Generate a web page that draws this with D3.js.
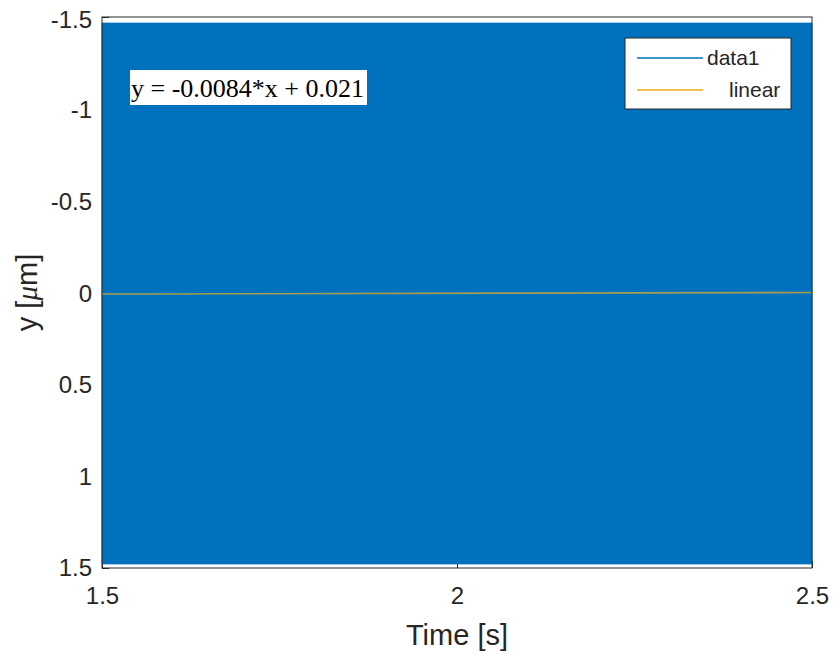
<!DOCTYPE html>
<html>
<head>
<meta charset="utf-8">
<script src="https://cdn.jsdelivr.net/npm/d3@7"></script>
<style>
  html, body { margin: 0; padding: 0; background: #fff; }
  svg { display: block; }
</style>
</head>
<body>
<svg id="chart" width="834" height="654"></svg>
<script>
// Axis ranges and tick labels
const xDomain = [1.5, 2.5];
const yDomain = [-1.5, 1.5];          // y axis is reversed: -1.5 at top
const xTicks = [1.5, 2, 2.5];
const yTicks = [-1.5, -1, -0.5, 0, 0.5, 1, 1.5];

// data1: dense oscillation, drawn as its min/max envelope over time
const envTime = [1.5, 2.5];
const envMin = [-1.467, -1.467];
const envMax = [1.478, 1.478];

// Linear fit stated in the annotation
const fitSlope = -0.0084;
const fitIntercept = 0.021;
const fitTime = [1.5, 2.5];

const legendLabels = ["data1", "linear"];

const m = { left: 102, right: 812, top: 17, bottom: 568 };
const svg = d3.select("#chart");

const x = d3.scaleLinear().domain(xDomain).range([m.left, m.right]);
const y = d3.scaleLinear().domain(yDomain).range([m.top, m.bottom]);

const axisColor = "#262626";
const blue = "#0072BD";
const yellow = "#EDB120";
const sans = "'Liberation Sans', Arial, Helvetica, sans-serif";
const serif = "'Liberation Serif', 'Times New Roman', serif";
const fmt = d => String(d);

// axes with inward ticks (drawn below the data)
const xAxis = svg.append("g").attr("transform", `translate(0,${m.bottom})`)
  .call(d3.axisBottom(x).tickValues(xTicks).tickSize(-7).tickPadding(22).tickFormat(fmt));
const yAxis = svg.append("g").attr("transform", `translate(${m.left},0)`)
  .call(d3.axisLeft(y).tickValues(yTicks).tickSize(-7).tickPadding(10).tickFormat(fmt));
[xAxis, yAxis].forEach(g => {
  g.select(".domain").remove();
  g.selectAll(".tick line").attr("stroke", axisColor);
  g.selectAll(".tick text").attr("fill", axisColor)
    .style("font-family", sans).style("font-size", "24px");
});
yAxis.selectAll(".tick text").attr("dy", "0.36em");
yAxis.selectAll(".tick").filter(d => d === yDomain[0]).select("text").attr("dy", "0.45em");
yAxis.selectAll(".tick").filter(d => d === yDomain[1]).select("text").attr("dy", "0.3em");
xAxis.selectAll(".tick text").attr("dy", "0.6em");

// data1 envelope
const envData = envTime.map((t, i) => ({ t, lo: envMin[i], hi: envMax[i] }));
svg.append("path").datum(envData)
  .attr("d", d3.area().x(d => x(d.t)).y0(d => y(d.lo)).y1(d => y(d.hi)))
  .attr("fill", blue).attr("stroke", blue).attr("stroke-width", 0.8);

// linear fit line
const fitData = fitTime.map(t => ({ t, v: fitSlope * t + fitIntercept }));
svg.append("path").datum(fitData)
  .attr("d", d3.line().x(d => x(d.t)).y(d => y(d.v)))
  .attr("fill", "none").attr("stroke", yellow).attr("stroke-width", 1.6).attr("opacity", 0.7);

// box outline
svg.append("rect")
  .attr("x", m.left).attr("y", m.top)
  .attr("width", m.right - m.left).attr("height", m.bottom - m.top)
  .attr("fill", "none").attr("stroke", axisColor).attr("stroke-width", 1);

// axis titles
svg.append("text").attr("x", (m.left + m.right) / 2).attr("y", 645)
  .attr("text-anchor", "middle").attr("fill", axisColor)
  .style("font-family", sans).style("font-size", "29px")
  .text("Time [s]");
const yl = svg.append("text")
  .attr("transform", `translate(37,${(m.top + m.bottom) / 2}) rotate(-90)`)
  .attr("text-anchor", "middle").attr("fill", axisColor)
  .style("font-family", sans).style("font-size", "29px");
yl.append("tspan").text("y [");
yl.append("tspan").style("font-family", serif).style("font-style", "italic").text("μ");
yl.append("tspan").text("m]");

// fit equation annotation
const eqText = `y = ${fitSlope}*x + ${fitIntercept}`;
svg.append("rect").attr("x", 130).attr("y", 70).attr("width", 237).attr("height", 35).attr("fill", "#fff");
svg.append("text").attr("x", 131).attr("y", 97)
  .attr("fill", "#000")
  .style("font-family", serif).style("font-size", "26px")
  .text(eqText);

// legend
const lg = svg.append("g");
lg.append("rect").attr("x", 625).attr("y", 38).attr("width", 166).attr("height", 71)
  .attr("fill", "#fff").attr("stroke", axisColor).attr("stroke-width", 1);
const legendColors = [blue, yellow];
const legendTextX = [707, 729];
legendLabels.forEach((lab, i) => {
  const ly = 58 + i * 32;
  lg.append("line").attr("x1", 637).attr("x2", 703).attr("y1", ly).attr("y2", ly)
    .attr("stroke", legendColors[i]).attr("stroke-width", i === 0 ? 1.3 : 2).attr("opacity", i === 0 ? 1 : 0.8);
  lg.append("text").attr("x", legendTextX[i]).attr("y", ly + 7)
    .attr("fill", axisColor)
    .style("font-family", sans).style("font-size", "21px")
    .text(lab);
});
</script>
</body>
</html>
